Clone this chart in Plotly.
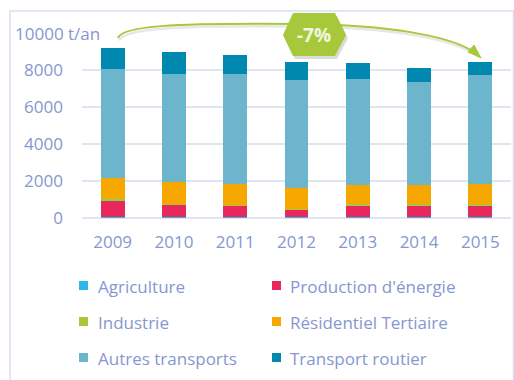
import plotly.graph_objects as go

# Émissions annuelles par secteur (t/an)
years = ["2009", "2010", "2011", "2012", "2013", "2014", "2015"]
sectors = ["Agriculture", "Production d'énergie", "Industrie",
           "Résidentiel Tertiaire", "Autres transports", "Transport routier"]
agriculture = [80, 80, 80, 80, 80, 80, 80]
production_energie = [830, 660, 590, 360, 610, 610, 610]
industrie = [160, 30, 50, 70, 50, 50, 75]
residentiel_tertiaire = [1100, 1150, 1100, 1100, 1065, 1065, 1080]
autres_transports = [5890, 5890, 5960, 5840, 5710, 5550, 5870]
transport_routier = [1110, 1190, 1030, 990, 880, 770, 740]
colors = ["#29b8e8", "#e8285c", "#a8c83a", "#f6a800", "#6cb5cc", "#0088b0"]
y_ticks = [0, 2000, 4000, 6000, 8000, 10000]
y_ticktext = ["0", "2000", "4000", "6000", "8000", ""]
unit_label = "10000 t/an"
change_label = "-7%"

series = [agriculture, production_energie, industrie,
          residentiel_tertiaire, autres_transports, transport_routier]

W, H = 514, 380
L, R, T, B = 82, 3, 33, 162
PW, PH = W - L - R, H - T - B
TXT = "#8797cf"
FONT = "Open Sans"
GREEN = "#a8c83c"


def fx(px):
    return (px - L) / PW


def fy(py):
    return (H - B - py) / PH


fig = go.Figure()
for name, vals, col in zip(sectors, series, colors):
    fig.add_trace(go.Bar(x=years, y=vals, name=name, marker_color=col,
                         marker_line_width=0, width=0.39, showlegend=False))

shapes = []
annotations = []

# cadre
shapes.append(dict(type="rect", xref="paper", yref="paper",
                   x0=fx(10), x1=fx(513.5), y0=fy(11), y1=fy(400),
                   line=dict(color="#d9e0f1", width=1.6), layer="below"))

# courbe de tendance
def path(points):
    s = "M%.4f,%.4f" % (fx(points[0][0]), fy(points[0][1]))
    for i in range(1, len(points), 3):
        s += " C" + " ".join("%.4f,%.4f" % (fx(a), fy(b)) for a, b in points[i:i + 3])
    return s


curve = [(118, 38), (122, 26), (170, 23), (300, 24),
         (390, 25), (450, 36), (474, 52)]
shadow_curve = [(x + 1, y + 2.5) for x, y in curve]
shapes.append(dict(type="path", xref="paper", yref="paper", path=path(shadow_curve),
                   line=dict(color="rgba(120,120,120,0.18)", width=2.5)))
shapes.append(dict(type="path", xref="paper", yref="paper", path=path(curve),
                   line=dict(color=GREEN, width=2)))
head = [(481, 58), (468, 52), (474, 45)]
shapes.append(dict(type="path", xref="paper", yref="paper",
                   path="M" + " L".join("%.4f,%.4f" % (fx(a), fy(b)) for a, b in head) + " Z",
                   fillcolor=GREEN, line=dict(color=GREEN, width=1)))

# hexagone
hexa = [(283, 35), (293, 13), (335, 13), (346, 35), (335, 56), (293, 56)]
hexa_sh = [(x + 2, y + 3) for x, y in hexa]
for pts, fill in ((hexa_sh, "rgba(90,90,90,0.22)"), (hexa, GREEN)):
    shapes.append(dict(type="path", xref="paper", yref="paper",
                       path="M" + " L".join("%.4f,%.4f" % (fx(a), fy(b)) for a, b in pts) + " Z",
                       fillcolor=fill, line=dict(width=0)))
annotations.append(dict(text="<b>%s</b>" % change_label, xref="paper", yref="paper",
                        x=fx(314), y=fy(35), showarrow=False, xanchor="center", yanchor="middle",
                        font=dict(family=FONT, size=19, color="#f2f6e0")))

# unité
annotations.append(dict(text=unit_label, xref="paper", yref="paper", x=fx(13), y=fy(33),
                        xanchor="left", yanchor="middle", showarrow=False,
                        font=dict(family=FONT, size=17, color=TXT)))

# légende
leg_cols = [(79, 96), (272, 288)]
leg_rows = [286, 322, 358]
for i, (name, col) in enumerate(zip(sectors, colors)):
    mx, tx = leg_cols[i % 2]
    ry = leg_rows[i // 2]
    shapes.append(dict(type="rect", xref="paper", yref="paper",
                       x0=fx(mx), x1=fx(mx + 9), y0=fy(ry - 5), y1=fy(ry + 4),
                       fillcolor=col, line=dict(width=0)))
    annotations.append(dict(text=name, xref="paper", yref="paper", x=fx(tx), y=fy(ry),
                            xanchor="left", yanchor="middle", showarrow=False,
                            font=dict(family=FONT, size=17, color=TXT)))

fig.update_layout(
    barmode="stack",
    width=W, height=H,
    margin=dict(l=L, r=R, t=T, b=B, pad=0),
    paper_bgcolor="white", plot_bgcolor="white",
    font=dict(family=FONT, size=17, color=TXT),
    shapes=shapes, annotations=annotations,
    xaxis=dict(type="category", range=[-0.5, 6.5], showgrid=False, zeroline=False,
               showline=False, ticks="", ticklabelstandoff=12,
               tickfont=dict(family=FONT, size=17, color=TXT)),
    yaxis=dict(range=[0, 10000], tickvals=y_ticks, ticktext=y_ticktext,
               showgrid=True, gridcolor="#e0e5f3", gridwidth=2,
               zeroline=True, zerolinecolor="#e0e5f3", zerolinewidth=2,
               showline=False, ticks="", ticklabelstandoff=18,
               tickfont=dict(family=FONT, size=17, color=TXT)),
    showlegend=False,
)

fig.write_html("out.html")
